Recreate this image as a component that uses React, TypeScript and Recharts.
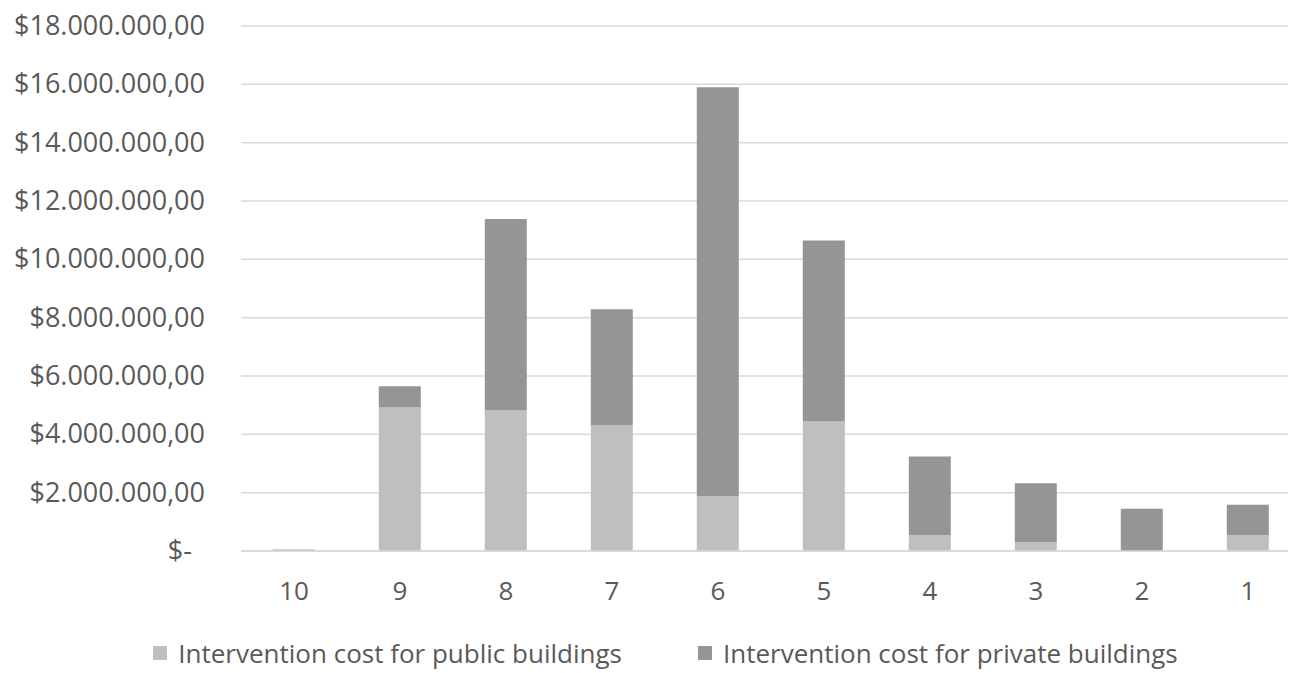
import { BarChart, Bar, XAxis, YAxis, CartesianGrid, Legend } from "recharts";

const categories = ["10", "9", "8", "7", "6", "5", "4", "3", "2", "1"];
const publicCost = [60000, 4920000, 4820000, 4310000, 1890000, 4440000, 540000, 300000, 0, 540000];
const privateCost = [0, 730000, 6560000, 3980000, 14010000, 6210000, 2700000, 2020000, 1450000, 1050000];
const yTicks = [0, 2000000, 4000000, 6000000, 8000000, 10000000, 12000000, 14000000, 16000000, 18000000];

const data = categories.map((c, i) => ({
  name: c,
  public: publicCost[i],
  private: privateCost[i],
}));

const FONT = "'Open Sans', sans-serif";
const TEXT = "#595959";

function money(v: number) {
  if (v === 0) return "$-";
  const s = String(Math.round(v)).replace(/\B(?=(\d{3})+(?!\d))/g, ".");
  return "$" + s + ",00";
}

function YTick(props: any) {
  const { x, y, payload } = props;
  const zero = payload.value === 0;
  return (
    <text x={zero ? x - 41 : x - 28} y={y} dy={9} textAnchor="end" fill={TEXT} fontSize={27} fontFamily={FONT}>
      {money(payload.value)}
    </text>
  );
}

function XTick(props: any) {
  const { x, y, payload } = props;
  return (
    <text x={x} y={y} dy={41} textAnchor="middle" fill={TEXT} fontSize={26} fontFamily={FONT}>
      {payload.value}
    </text>
  );
}

function LegendBox(props: any) {
  const items = [...(props.payload || [])].sort((a: any, b: any) =>
    a.dataKey === "public" ? -1 : b.dataKey === "public" ? 1 : 0
  );
  return (
    <div style={{ display: "flex", justifyContent: "center", gap: 76, paddingLeft: 30, paddingTop: 37 }}>
      {items.map((it: any) => (
        <div key={it.value} style={{ display: "flex", alignItems: "center", fontFamily: FONT, fontSize: 26, color: TEXT, lineHeight: "26px" }}>
          <span style={{ width: 14, height: 14, background: it.color, marginRight: 11, display: "inline-block" }} />
          {it.value}
        </div>
      ))}
    </div>
  );
}

export default function App() {
  return (
    <div style={{ marginTop: -8, marginLeft: -8, width: 1296, height: 673, overflow: "hidden", background: "#fff" }}>
      <BarChart width={1310} height={673} data={data} margin={{ top: 26, right: 9, left: 0, bottom: 0 }} barCategoryGap="30%">
        <CartesianGrid vertical={false} stroke="#d9d9d9" strokeWidth={1.5} />
        <XAxis dataKey="name" tick={<XTick />} tickLine={false} axisLine={{ stroke: "#d9d9d9", strokeWidth: 1.5 }} height={52} />
        <YAxis domain={[0, 18000000]} ticks={yTicks} tick={<YTick />} tickLine={false} axisLine={false} width={241} interval={0} />
        <Legend verticalAlign="bottom" height={70} content={<LegendBox />} />
        <Bar dataKey="public" stackId="a" fill="#bfbfbf" name="Intervention cost for public buildings" isAnimationActive={false} />
        <Bar dataKey="private" stackId="a" fill="#959595" name="Intervention cost for private buildings" isAnimationActive={false} />
      </BarChart>
    </div>
  );
}
